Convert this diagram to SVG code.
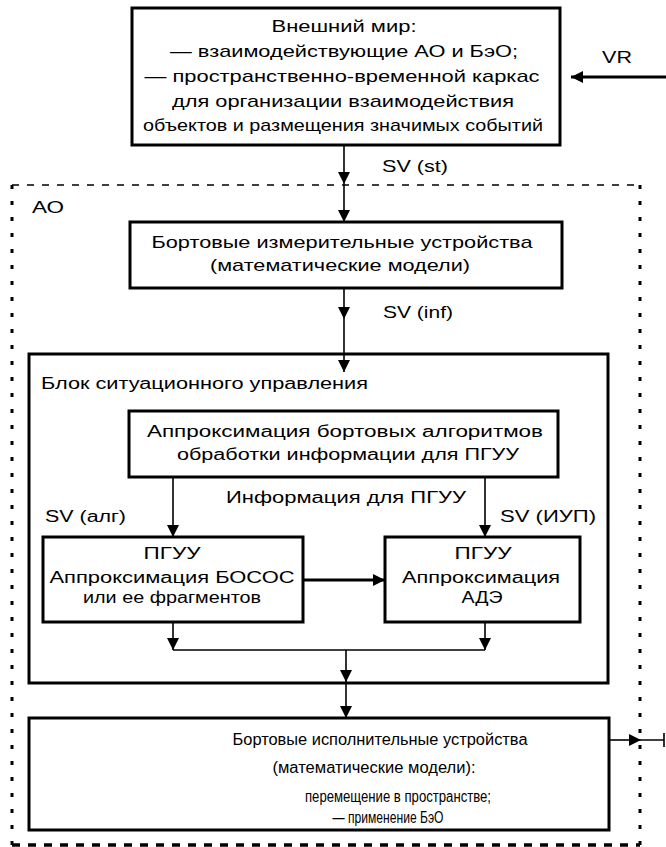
<svg xmlns="http://www.w3.org/2000/svg" width="666" height="847" viewBox="0 0 666 847">
<defs>
<marker id="ah" markerUnits="userSpaceOnUse" markerWidth="12" markerHeight="12" viewBox="0 0 10 10" refX="10" refY="5" orient="auto">
<path d="M0,0 L10,5 L0,10 z" fill="#000"/>
</marker>
</defs>
<style>
text{font-family:"Liberation Sans",Arial,sans-serif;font-size:16px;fill:#000}
.b{font-size:17px}
.m{text-anchor:middle}
.box{fill:#fff;stroke:#000;stroke-width:3}
.ln{fill:none;stroke:#000;stroke-width:1.6}
.th{fill:none;stroke:#000;stroke-width:3}
.dash{fill:none;stroke:#000}
</style>
<rect width="666" height="847" fill="#fff"/>

<g id="ao-border">
<path class="dash" d="M12,185 H640" stroke-width="1.5" stroke-dasharray="7 8"/>
<path class="dash" d="M12,185 V845 M640,185 V845" stroke-width="3" stroke-dasharray="4 12"/>
<path class="dash" d="M12,845 H640" stroke-width="3.5" stroke-dasharray="8 8"/>
<text x="32" y="213" class="b" textLength="32" lengthAdjust="spacingAndGlyphs">АО</text>
</g>

<g id="connectors">
<path class="th" d="M666,77 H571" marker-end="url(#ah)" stroke-width="2.5"/>
<path class="ln" d="M344,145 V184" marker-end="url(#ah)"/>
<path class="ln" d="M344,184 V222" marker-end="url(#ah)"/>
<path class="ln" d="M344,288 V319" marker-end="url(#ah)"/>
<path class="ln" d="M344,319 V372" marker-end="url(#ah)"/>
<path class="ln" d="M173,477 V537" marker-end="url(#ah)"/>
<path class="ln" d="M485,477 V537" marker-end="url(#ah)"/>
<path class="th" d="M303,580 H385" marker-end="url(#ah)"/>
<path class="ln" d="M173,622 V650" marker-end="url(#ah)"/>
<path class="ln" d="M485,622 V650" marker-end="url(#ah)"/>
<path class="ln" d="M173,650 H485"/>
<path class="ln" d="M346,650 V682" marker-end="url(#ah)"/>
<path class="ln" d="M346,682 V718" marker-end="url(#ah)"/>
<path class="ln" d="M609,740 H641" marker-end="url(#ah)" stroke-width="2"/>
<path class="ln" d="M641,740 H664 M664,733 V747" stroke-width="2"/>
<text x="602" y="63" class="b" textLength="30" lengthAdjust="spacingAndGlyphs">VR</text>
<text x="382" y="172" class="b" textLength="66" lengthAdjust="spacingAndGlyphs">SV (st)</text>
<text x="383" y="318" class="b" textLength="70" lengthAdjust="spacingAndGlyphs">SV (inf)</text>
<text x="226" y="503" textLength="240" lengthAdjust="spacingAndGlyphs">Информация для ПГУУ</text>
<text x="45" y="522" textLength="81" lengthAdjust="spacingAndGlyphs">SV (алг)</text>
<text x="500" y="522" textLength="96" lengthAdjust="spacingAndGlyphs">SV (ИУП)</text>
</g>

<g id="world">
<rect class="box" x="132" y="8" width="428" height="137"/>
<text x="344" y="32" class="b m" textLength="145" lengthAdjust="spacingAndGlyphs">Внешний мир:</text>
<text x="344" y="57" class="b m" textLength="348" lengthAdjust="spacingAndGlyphs">— взаимодействующие АО и БэО;</text>
<text x="342" y="82" class="b m" textLength="395" lengthAdjust="spacingAndGlyphs">— пространственно-временной каркас</text>
<text x="343" y="107" class="b m" textLength="342" lengthAdjust="spacingAndGlyphs">для организации взаимодействия</text>
<text x="343" y="131" class="b m" textLength="400" lengthAdjust="spacingAndGlyphs">объектов и размещения значимых событий</text>
</g>

<g id="sensors">
<rect class="box" x="130" y="222" width="432" height="66"/>
<text x="342" y="248" class="b m" textLength="381" lengthAdjust="spacingAndGlyphs">Бортовые измерительные устройства</text>
<text x="340" y="271" class="b m" textLength="260" lengthAdjust="spacingAndGlyphs">(математические модели)</text>
</g>

<g id="control-block">
<rect class="box" x="29" y="354" width="579" height="329" fill="none" style="fill:none"/>
<text x="41" y="389" textLength="327" lengthAdjust="spacingAndGlyphs">Блок ситуационного управления</text>
</g>

<g id="approx-algo">
<rect class="box" x="129" y="411" width="429" height="66"/>
<text x="345" y="437" class="m" textLength="396" lengthAdjust="spacingAndGlyphs">Аппроксимация бортовых алгоритмов</text>
<text x="348" y="460" class="m" textLength="342" lengthAdjust="spacingAndGlyphs">обработки информации для ПГУУ</text>
</g>

<g id="pguu-bosos">
<rect class="box" x="43" y="537" width="260" height="85"/>
<text x="172" y="559" class="m" textLength="57" lengthAdjust="spacingAndGlyphs">ПГУУ</text>
<text x="172" y="583" class="m" textLength="245" lengthAdjust="spacingAndGlyphs">Аппроксимация БОСОС</text>
<text x="172" y="603" class="m" textLength="178" lengthAdjust="spacingAndGlyphs">или ее фрагментов</text>
</g>

<g id="pguu-ade">
<rect class="box" x="385" y="537" width="195" height="85"/>
<text x="483" y="559" class="m" textLength="57" lengthAdjust="spacingAndGlyphs">ПГУУ</text>
<text x="481" y="583" class="m" textLength="158" lengthAdjust="spacingAndGlyphs">Аппроксимация</text>
<text x="482" y="603" class="m" textLength="41" lengthAdjust="spacingAndGlyphs">АДЭ</text>
</g>

<g id="actuators">
<rect class="box" x="29" y="718" width="580" height="112"/>
<text x="380" y="745" class="m" textLength="295" lengthAdjust="spacingAndGlyphs">Бортовые исполнительные устройства</text>
<text x="374" y="773" class="m" textLength="203" lengthAdjust="spacingAndGlyphs">(математические модели):</text>
<text x="398" y="802" class="m" textLength="186" lengthAdjust="spacingAndGlyphs">перемещение в пространстве;</text>
<text x="388" y="823" class="m" textLength="111" lengthAdjust="spacingAndGlyphs">— применение БэО</text>
</g>
</svg>
